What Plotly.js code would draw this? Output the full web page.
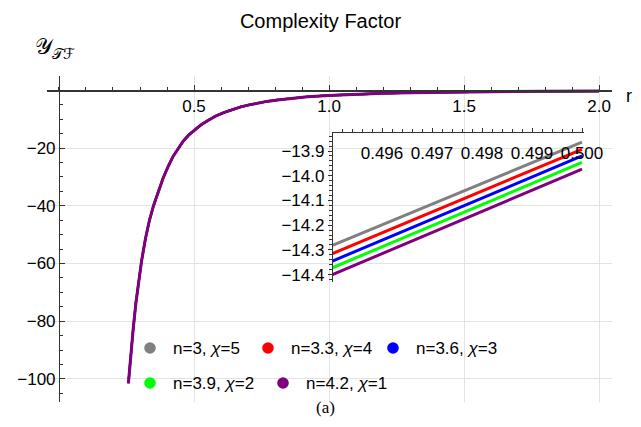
<!DOCTYPE html>
<html>
<head>
<meta charset="utf-8">
<script src="https://cdn.plot.ly/plotly-3.0.1.min.js"></script>
<style>html,body{margin:0;padding:0;background:#fff;}#chart{width:641px;height:427px;}</style>
</head>
<body>
<div id="chart"></div>
<script>
// ---------- data ----------
const seriesNames = ["n=3, <i>χ</i>=5", "n=3.3, <i>χ</i>=4", "n=3.6, <i>χ</i>=3", "n=3.9, <i>χ</i>=2", "n=4.2, <i>χ</i>=1"];
const seriesColors = ["#808080", "#ff0000", "#0000ff", "#00ff00", "#800080"];

// main panel: the five curves overlap at this scale
const mainR = [0.257, 0.265, 0.275, 0.285, 0.295, 0.306, 0.32, 0.335, 0.35, 0.368, 0.386, 0.405, 0.423, 0.44, 0.46, 0.48, 0.5, 0.525, 0.55, 0.58, 0.61, 0.64, 0.67, 0.7, 0.735, 0.77, 0.81, 0.86, 0.92, 1.0, 1.1, 1.2, 1.3, 1.45, 1.6, 1.8, 2.0];
const mainY = [-101.5, -92.5, -82.5, -73.5, -66.0, -59.0, -51.5, -45.0, -40.0, -34.8, -30.3, -26.2, -22.8, -20.4, -17.6, -15.5, -13.97, -12.0, -10.5, -8.9, -7.7, -6.7, -5.8, -5.1, -4.4, -3.8, -3.3, -2.7, -2.2, -1.75, -1.3, -1.0, -0.8, -0.57, -0.43, -0.3, -0.22];

// inset panel
const insetR = [0.495, 0.500];
const insetGray   = [-14.282, -13.864];
const insetRed    = [-14.316, -13.893];
const insetBlue   = [-14.346, -13.920];
const insetGreen  = [-14.373, -13.946];
const insetPurple = [-14.401, -13.973];
const insetSeries = [insetGray, insetRed, insetBlue, insetGreen, insetPurple];

const mainXTicks = [0.5, 1.0, 1.5, 2.0];
const mainYTicks = [-100, -80, -60, -40, -20];
const insetXTicks = [0.496, 0.497, 0.498, 0.499, 0.500];
const insetYTicks = [-14.4, -14.3, -14.2, -14.1, -14.0, -13.9];

// ---------- layout geometry ----------
const W = 641, H = 427;
const M = {l: 47, r: 29, t: 76, b: 25};
const PW = W - M.l - M.r, PH = H - M.t - M.b;
const px = x => (x - M.l) / PW;
const py = y => (H - M.b - y) / PH;
const xRange = [-0.0444, 2.048];
const yRange = [-108, 5];
const insetXRange = [0.49502, 0.50004];
const insetDomain = [px(333), px(584)];
const axisColor = "#333333";
const gridColor = "#e3e3e3";
const font = "Liberation Sans, Arial, sans-serif";

const traces = [];
seriesColors.forEach((c, i) => {
  const last = i === seriesColors.length - 1;
  traces.push({x: mainR, y: mainY, type: "scatter", mode: "lines", xaxis: "x", yaxis: "y",
    line: {color: c, width: last ? 3 : 2.2}, showlegend: false, hoverinfo: "skip"});
});
insetSeries.forEach((s, i) => {
  traces.push({x: insetR, y: s, type: "scatter", mode: "lines", xaxis: "x2", yaxis: "y2",
    line: {color: seriesColors[i], width: 3}, showlegend: false, hoverinfo: "skip"});
});

// manual legend placement (pixels)
const legPos = [[150, 348], [268, 348], [393, 348], [150, 383], [283, 383]];
const shapes = [], annotations = [];
seriesNames.forEach((n, i) => {
  const [mx, my] = legPos[i];
  shapes.push({type: "circle", xref: "paper", yref: "paper", xsizemode: "pixel", ysizemode: "pixel",
    xanchor: px(mx), yanchor: py(my), x0: -5.8, x1: 5.8, y0: -5.8, y1: 5.8,
    fillcolor: seriesColors[i], line: {width: 0}});
  annotations.push({xref: "paper", yref: "paper", x: px(mx + 21), y: py(my), xanchor: "left", yanchor: "middle",
    text: n, showarrow: false, font: {family: font, size: 17, color: "#000"}});
});
annotations.push({xref: "paper", yref: "paper", x: px(624), y: py(96), xanchor: "left", yanchor: "middle",
  text: "r", showarrow: false, font: {family: font, size: 18, color: "#000"}});
annotations.push({xref: "paper", yref: "paper", x: px(33), y: py(48), xanchor: "left", yanchor: "middle",
  text: "𝒴<sub>𝒯ℱ</sub>", showarrow: false, font: {family: "DejaVu Serif, DejaVu Sans, serif", size: 22, color: "#000"}});
annotations.push({xref: "paper", yref: "paper", x: px(325), y: py(408), xanchor: "center", yanchor: "middle",
  text: "(a)", showarrow: false, font: {family: "Liberation Serif, DejaVu Serif, serif", size: 17, color: "#000"}});

const tickFont = {family: font, size: 17, color: "#000"};
const layout = {
  width: W, height: H,
  margin: M,
  paper_bgcolor: "#fff", plot_bgcolor: "rgba(0,0,0,0)",
  showlegend: false,
  title: {text: "Complexity Factor", x: 0.5, xref: "container", y: 1 - 21 / H, yref: "container",
    yanchor: "middle", xanchor: "center", font: {family: font, size: 20, color: "#000"}},
  xaxis: {range: xRange, anchor: "free", position: (0 - yRange[0]) / (yRange[1] - yRange[0]),
    showline: true, linecolor: axisColor, linewidth: 1.2, zeroline: false,
    tickvals: mainXTicks, tickformat: ".1f", ticks: "inside", ticklen: 5, tickcolor: axisColor,
    showgrid: true, gridcolor: gridColor, gridwidth: 1, tickfont: tickFont,
    minor: {dtick: 0.1, tick0: 0, ticks: "inside", ticklen: 3, tickcolor: axisColor, showgrid: false}},
  yaxis: {range: yRange, anchor: "free", position: (0 - xRange[0]) / (xRange[1] - xRange[0]),
    showline: true, linecolor: axisColor, linewidth: 1.2, zeroline: false,
    tickvals: mainYTicks, ticks: "inside", ticklen: 5, tickcolor: axisColor,
    showgrid: true, gridcolor: gridColor, gridwidth: 1, tickfont: tickFont,
    minor: {dtick: 5, tick0: 0, ticks: "inside", ticklen: 3, tickcolor: axisColor, showgrid: false}},
  xaxis2: {domain: insetDomain, anchor: "y2", side: "top", range: insetXRange,
    showline: true, linecolor: axisColor, linewidth: 1.2, zeroline: false, showgrid: false,
    tickvals: insetXTicks, showticklabels: false, ticks: "outside", ticklen: 4, tickcolor: axisColor,
    minor: {dtick: 0.0002, tick0: 0.495, ticks: "outside", ticklen: 2.5, tickcolor: axisColor, showgrid: false}},
  xaxis3: {domain: insetDomain, anchor: "free", overlaying: "x2", position: py(162), side: "top",
    range: insetXRange, showline: false, zeroline: false, showgrid: false, ticks: "",
    tickvals: insetXTicks, tickformat: ".3f", tickfont: tickFont},
  yaxis2: {domain: [py(282), py(133)], anchor: "x2", range: [-14.43, -13.827],
    showline: true, linecolor: axisColor, linewidth: 1.2, zeroline: false, showgrid: false,
    tickvals: insetYTicks, tickformat: ".1f", ticks: "outside", ticklen: 4, tickcolor: axisColor,
    tickfont: tickFont,
    minor: {dtick: 0.02, tick0: -14.4, ticks: "outside", ticklen: 2.5, tickcolor: axisColor, showgrid: false}},
  shapes: shapes,
  annotations: annotations
};

// dummy trace so xaxis3 is drawn
traces.push({x: [null], y: [null], xaxis: "x3", yaxis: "y2", type: "scatter", mode: "lines",
  showlegend: false, hoverinfo: "skip"});

Plotly.newPlot("chart", traces, layout, {staticPlot: true, displayModeBar: false});
</script>
</body>
</html>
